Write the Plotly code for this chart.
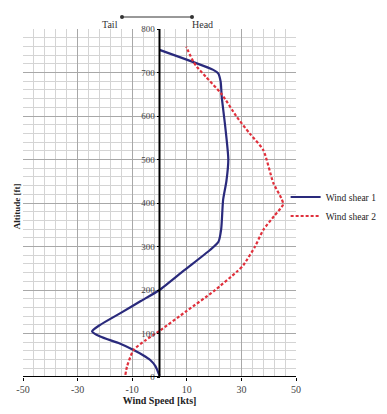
import plotly.graph_objects as go

# Wind shear 1 (solid navy)
ws1_speed = [0, -1.5, -3.4, -6, -9.5, -15, -21.7, -24.7, -21.7, -14, -7, 0, 9, 18.5, 21.6, 22.6, 23.3, 24.5, 25.2, 24.0, 22.8, 22.4, 21.5, 19.7, 0]
ws1_alt = [3, 25, 39, 50, 62, 78, 93, 105, 120, 148, 174, 200, 245, 292, 311, 340, 407, 450, 500, 580, 644, 679, 698, 706, 752]

# Wind shear 2 (dashed red)
ws2_speed = [-12.5, -11.9, -9.5, -5, 0, 10, 20, 28.3, 30.7, 35, 38, 42, 45.3, 44.7, 41.7, 38, 33, 28.3, 22.8, 17, 13.7, 12.4, 9.8]
ws2_alt = [5, 24, 62, 85, 106, 152, 198, 242, 257, 300, 338, 370, 397, 410, 446, 522, 560, 598, 650, 690, 713, 725, 759]

x_ticks = [-50, -30, -10, 10, 30, 50]
y_ticks = [0, 100, 200, 300, 400, 500, 600, 700, 800]

SERIF = "Liberation Serif, Times New Roman, serif"

fig = go.Figure()
fig.add_trace(go.Scatter(x=ws1_speed, y=ws1_alt, mode="lines", name="Wind shear 1",
                         line=dict(color="#2a2a7c", width=2.2, shape="spline", smoothing=0.6)))
fig.add_trace(go.Scatter(x=ws2_speed, y=ws2_alt, mode="lines", name="Wind shear 2",
                         line=dict(color="#e0303c", width=2.2, dash="3px,2px", shape="spline", smoothing=0.6)))

fig.update_layout(
    width=387, height=414,
    margin=dict(l=23, r=91, t=29, b=37, autoexpand=False),
    paper_bgcolor="white", plot_bgcolor="white",
    font=dict(family=SERIF, size=9, color="#333"),
    showlegend=True,
    legend=dict(x=0.962, y=0.49, xanchor="left", yanchor="middle",
                font=dict(family=SERIF, size=9.5, color="#222"),
                bgcolor="rgba(0,0,0,0)", itemwidth=30, tracegroupgap=0),
    xaxis=dict(range=[-50, 50], tickmode="array", tickvals=x_ticks,
               ticktext=[str(v) for v in x_ticks],
               showgrid=True, gridcolor="#a8a8a8", gridwidth=1,
               minor=dict(tick0=-50, dtick=4, showgrid=True, gridcolor="#d4d4d4", gridwidth=1),
               zeroline=False, showline=False,
               ticks="outside", ticklen=3, tickcolor="black",
               tickfont=dict(family=SERIF, size=10, color="#444"),
               title=dict(text="<b>Wind Speed [kts]</b>", font=dict(family=SERIF, size=10, color="#222"),
                          standoff=2),
               fixedrange=True),
    yaxis=dict(range=[0, 800], tickmode="array", tickvals=y_ticks,
               showgrid=True, gridcolor="#a8a8a8", gridwidth=1,
               minor=dict(tick0=0, dtick=20, showgrid=True, gridcolor="#d4d4d4", gridwidth=1),
               zeroline=False, showline=False,
               anchor="free", position=0.5,
               ticks="outside", ticklen=3, tickcolor="black",
               tickfont=dict(family=SERIF, size=9, color="#444"),
               fixedrange=True),
)

# black axis lines at x=0 (vertical) and y=0 (horizontal)
fig.add_vline(x=0, line=dict(color="black", width=2), layer="above")
fig.add_hline(y=0, line=dict(color="black", width=2), layer="above")

# y-axis title
fig.add_annotation(text="<b>Altitude [ft]</b>", xref="paper", yref="paper",
                   x=-0.045, y=0.49, textangle=-90, showarrow=False,
                   font=dict(family=SERIF, size=9, color="#222"))

# Tail <-> Head indicator
def px2x(px):
    return (px - 23) / 273.0

ytop = (377 - 17) / 348.0
fig.add_annotation(text="Tail", xref="paper", yref="paper", x=px2x(100), y=ytop,
                   showarrow=False, font=dict(family=SERIF, size=10, color="#333"))
fig.add_annotation(text="Head", xref="paper", yref="paper", x=px2x(215), y=ytop,
                   showarrow=False, font=dict(family=SERIF, size=10, color="#333"))
fig.add_shape(type="line", xref="paper", yref="paper", x0=px2x(122), x1=px2x(192),
              y0=ytop, y1=ytop, line=dict(color="#333", width=1))
for xp in (122, 192):
    fig.add_shape(type="circle", xref="paper", yref="paper", xsizemode="pixel", ysizemode="pixel",
                  xanchor=px2x(xp), yanchor=ytop, x0=-2, x1=2, y0=-2, y1=2,
                  fillcolor="#333", line=dict(color="#333", width=0))

fig.write_html("out.html", config={"displayModeBar": False},
               post_script="document.body.style.margin='0px';document.body.style.overflow='hidden';")
